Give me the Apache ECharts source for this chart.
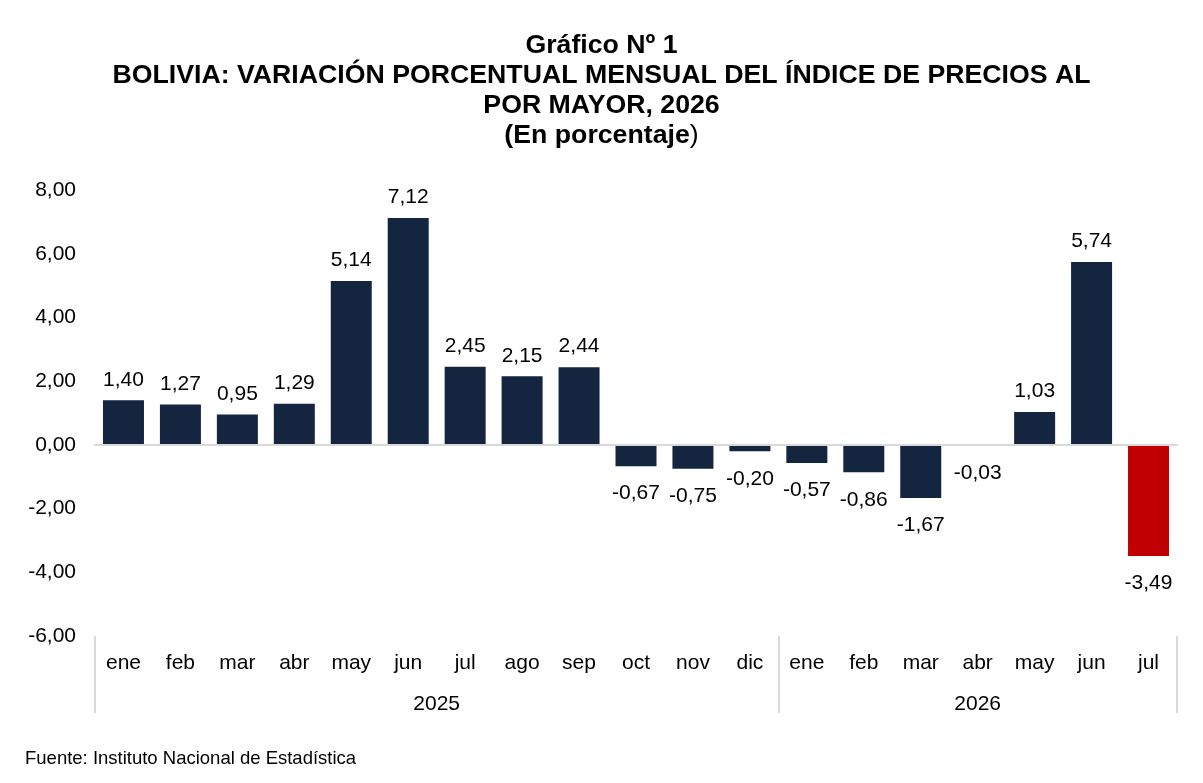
<!DOCTYPE html>
<html>
<head>
<meta charset="utf-8">
<script src="https://cdn.jsdelivr.net/npm/echarts@6/dist/echarts.min.js"></script>
<style>
html,body{margin:0;padding:0;background:#fff;}
#c{width:1203px;height:783px;}
</style>
</head>
<body>
<div id="c"></div>
<script>
const months = ['ene','feb','mar','abr','may','jun','jul','ago','sep','oct','nov','dic','ene','feb','mar','abr','may','jun','jul'];
const values = [1.40,1.27,0.95,1.29,5.14,7.12,2.45,2.15,2.44,-0.67,-0.75,-0.20,-0.57,-0.86,-1.67,-0.03,1.03,5.74,-3.49];
const years = ['2025','2026'];
const yearCounts = [12,7];
const yTicks = [-6,-4,-2,0,2,4,6,8];

const FONT = '"Liberation Sans", Arial, sans-serif';
const NAVY = '#13253F';
const RED = '#C00000';
const highlightIndex = values.length - 1;

// year group boundaries and centres (in month units)
const bounds = [0];
yearCounts.forEach(c => bounds.push(bounds[bounds.length-1] + c));
const centres = yearCounts.map((c,i) => bounds[i] + c/2);
const total = bounds[bounds.length-1];

const fmt = v => v.toFixed(2).replace('.', ',');

const chart = echarts.init(document.getElementById('c'));
chart.setOption({
  animation: false,
  backgroundColor: '#fff',
  title: [{
    text: 'Gráfico Nº 1\nBOLIVIA: VARIACIÓN PORCENTUAL MENSUAL DEL ÍNDICE DE PRECIOS AL\nPOR MAYOR, 2026\n(En porcentaje{n|)}',
    left: 'center',
    top: 30,
    padding: 0,
    textStyle: {
      fontFamily: FONT, fontSize: 26.7, fontWeight: 'bold', color: '#000', lineHeight: 30.3,
      rich: { n: { fontFamily: FONT, fontSize: 26.7, fontWeight: 'normal', color: '#000', lineHeight: 30.3 } }
    }
  }, {
    text: 'Fuente: Instituto Nacional de Estadística',
    left: 25,
    top: 749,
    padding: 0,
    textStyle: { fontFamily: FONT, fontSize: 18.5, fontWeight: 'normal', color: '#000' }
  }],
  grid: { left: 95, right: 26, top: 190, bottom: 147, containLabel: false },
  xAxis: [{
    type: 'category',
    data: months,
    position: 'bottom',
    z: 5,
    axisLine: { show: true, onZero: true, lineStyle: { color: '#D9D9D9', width: 2 } },
    axisTick: { show: false },
    axisLabel: { show: false },
    splitLine: { show: false }
  }, {
    type: 'category',
    data: months,
    position: 'bottom',
    axisLine: { show: false, onZero: false },
    axisTick: { show: false },
    axisLabel: { show: true, interval: 0, margin: 17, fontFamily: FONT, fontSize: 21, color: '#000' },
    splitLine: { show: false }
  }, {
    type: 'value',
    min: 0, max: total,
    position: 'bottom',
    axisLine: { show: false, onZero: false },
    axisTick: { show: true, customValues: bounds, length: 77, inside: false, lineStyle: { color: '#D9D9D9', width: 2 } },
    axisLabel: {
      show: true, customValues: centres, margin: 58, fontFamily: FONT, fontSize: 21, color: '#000',
      formatter: v => { const i = centres.indexOf(v); return i >= 0 ? years[i] : ''; }
    },
    splitLine: { show: false }
  }],
  yAxis: {
    type: 'value',
    min: yTicks[0], max: yTicks[yTicks.length-1], interval: 2,
    axisLine: { show: false },
    axisTick: { show: false },
    splitLine: { show: false },
    axisLabel: { margin: 19, verticalAlign: 'middle', padding: [6, 0, 0, 0], fontFamily: FONT, fontSize: 21, color: '#000', formatter: v => fmt(v) }
  },
  series: [{
    type: 'bar',
    xAxisIndex: 0,
    data: values.map((v,i) => ({
      value: v,
      itemStyle: { color: i === highlightIndex ? RED : NAVY },
      label: v >= 0 ? { position: 'top', distance: 10 } : { position: 'bottom', distance: 17 }
    })),
    barCategoryGap: '28%',
    label: {
      show: true, fontFamily: FONT, fontSize: 21, color: '#000',
      formatter: p => fmt(p.value)
    }
  }]
});
</script>
</body>
</html>
